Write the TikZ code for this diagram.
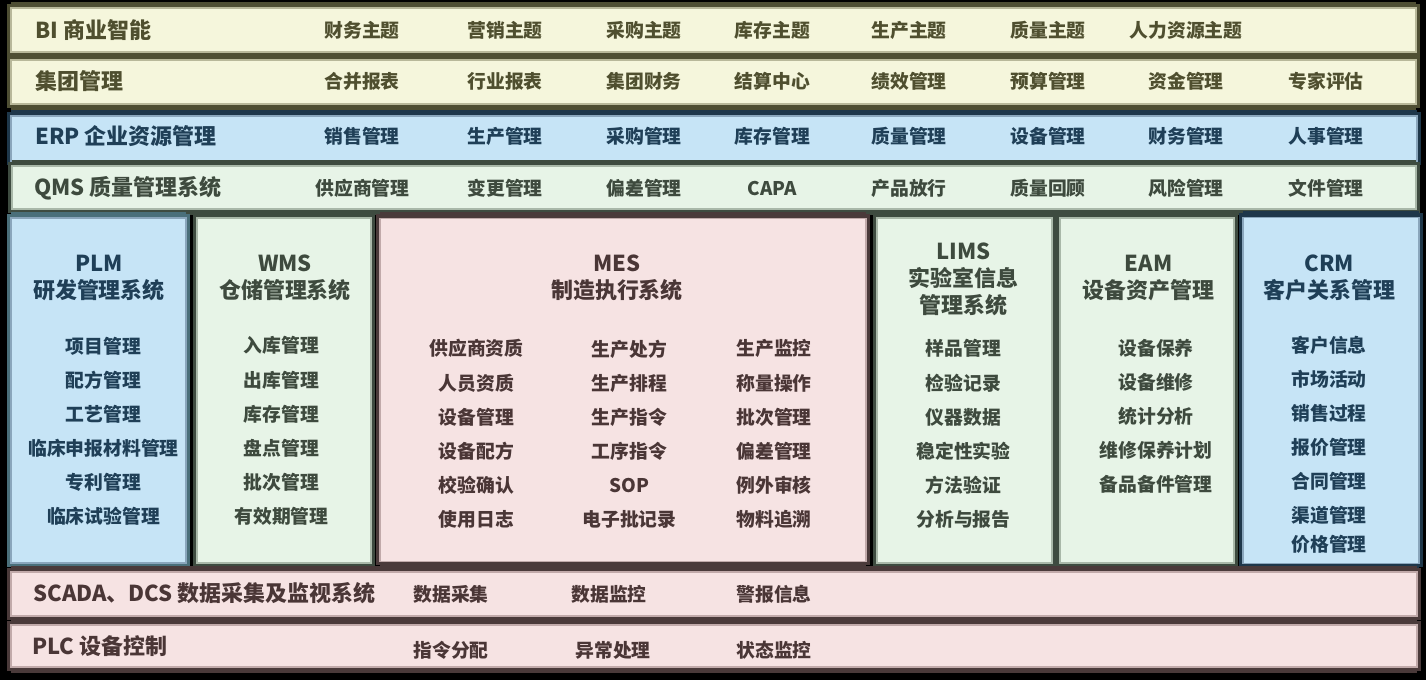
\documentclass[tikz,border=0pt]{standalone}
\usepackage{fontspec}
\setmainfont{Noto Sans CJK SC}
\usetikzlibrary{shadows}
\usepackage{xcolor}
\definecolor{creamlt}{HTML}{F5F6DC}
\definecolor{creamln}{HTML}{B8B89A}
\definecolor{creamdk}{HTML}{4E4E33}
\definecolor{creamtx}{HTML}{4F4F2F}
\definecolor{bluelt}{HTML}{C6E4F6}
\definecolor{blueln}{HTML}{8AA6BC}
\definecolor{bluedk}{HTML}{1E374A}
\definecolor{bluetx}{HTML}{1F3F57}
\definecolor{tealdk}{HTML}{4A6F7A}
\definecolor{greenlt}{HTML}{E7F4E7}
\definecolor{greenln}{HTML}{A9B8A9}
\definecolor{greendk}{HTML}{3E4B40}
\definecolor{greentx}{HTML}{3E4A3E}
\definecolor{pinklt}{HTML}{F6E3E3}
\definecolor{pinkln}{HTML}{C1AAAA}
\definecolor{pinkdk}{HTML}{4A3A3A}
\definecolor{pinktx}{HTML}{4A3636}
\tikzset{
  box/.style={rectangle, inner sep=0pt, line width=0.9pt,
              general shadow={fill=#1, shadow yshift=0.12cm},
              general shadow={fill=#1, shadow yshift=-0.12cm},
              preaction={draw=#1, line width=0.16cm}},
  creambox/.style={box=creamdk, fill=creamlt, draw=creamln},
  bluebox/.style={box=bluedk, fill=bluelt, draw=blueln},
  tealbox/.style={box=tealdk, fill=bluelt, draw=blueln},
  greenbox/.style={box=greendk, fill=greenlt, draw=greenln},
  pinkbox/.style={box=pinkdk, fill=pinklt, draw=pinkln},
  head/.style={font=\fontsize{12.5}{15}\selectfont\bfseries, anchor=west, inner sep=0pt},
  title/.style={font=\fontsize{12.5}{15.5}\selectfont\bfseries, align=center, inner sep=0pt},
  item/.style={font=\fontsize{10.7}{19.4}\selectfont\bfseries, align=center, inner sep=0pt}
}

\begin{document}
\begin{tikzpicture}
  \fill[black] (0,0) rectangle (28.52,13.6);
  \useasboundingbox (0,0) rectangle (28.52,13.6);

  % layers across the full width
  \node[creambox, minimum width=28.10cm, minimum height=0.88cm] (bi) at (14.27,13.00) {};
  \node[creambox, minimum width=28.10cm, minimum height=0.88cm] (grp) at (14.27,11.96) {};
  \node[bluebox, minimum width=28.12cm, minimum height=0.90cm] (erp) at (14.28,10.83) {};
  \node[greenbox, minimum width=28.08cm, minimum height=0.86cm] (qms) at (14.28,9.85) {};

  % vertical systems
  \node[tealbox, minimum width=3.50cm, minimum height=6.90cm] (plm) at (1.97,5.79) {};
  \node[greenbox, minimum width=3.48cm, minimum height=6.90cm] (wms) at (5.68,5.79) {};
  \node[pinkbox, minimum width=9.72cm, minimum height=6.86cm] (mes) at (12.46,5.80) {};
  \node[greenbox, minimum width=3.50cm, minimum height=6.90cm] (lims) at (19.29,5.79) {};
  \node[greenbox, minimum width=3.48cm, minimum height=6.90cm] (eam) at (22.94,5.79) {};
  \node[bluebox, minimum width=3.52cm, minimum height=6.92cm] (crm) at (26.62,5.79) {};

  % field level
  \node[pinkbox, minimum width=28.12cm, minimum height=0.88cm] (scada) at (14.28,1.72) {};
  \node[pinkbox, minimum width=28.12cm, minimum height=0.84cm] (plc) at (14.28,0.68) {};

  % BI
  \node[head, text=creamtx] (bihd) at (0.70,12.99) {BI 商业智能};
  \node[item, text=creamtx] (bi1) at (7.24,12.99) {财务主题};
  \node[item, text=creamtx] (bi2) at (10.10,12.99) {营销主题};
  \node[item, text=creamtx] (bi3) at (12.88,12.99) {采购主题};
  \node[item, text=creamtx] (bi4) at (15.45,12.99) {库存主题};
  \node[item, text=creamtx] (bi5) at (18.18,12.99) {生产主题};
  \node[item, text=creamtx] (bi6) at (20.96,12.99) {质量主题};
  \node[item, text=creamtx] (bi7) at (23.72,12.99) {人力资源主题};

  % group
  \node[head, text=creamtx] (grphd) at (0.70,11.98) {集团管理};
  \node[item, text=creamtx] (grp1) at (7.24,11.98) {合并报表};
  \node[item, text=creamtx] (grp2) at (10.10,11.98) {行业报表};
  \node[item, text=creamtx] (grp3) at (12.88,11.98) {集团财务};
  \node[item, text=creamtx] (grp4) at (15.45,11.98) {结算中心};
  \node[item, text=creamtx] (grp5) at (18.18,11.98) {绩效管理};
  \node[item, text=creamtx] (grp6) at (20.96,11.98) {预算管理};
  \node[item, text=creamtx] (grp7) at (23.72,11.98) {资金管理};
  \node[item, text=creamtx] (grp8) at (26.52,11.98) {专家评估};

  % ERP
  \node[head, text=bluetx] (erphd) at (0.70,10.87) {ERP 企业资源管理};
  \node[item, text=bluetx] (erp1) at (7.24,10.87) {销售管理};
  \node[item, text=bluetx] (erp2) at (10.10,10.87) {生产管理};
  \node[item, text=bluetx] (erp3) at (12.88,10.87) {采购管理};
  \node[item, text=bluetx] (erp4) at (15.45,10.87) {库存管理};
  \node[item, text=bluetx] (erp5) at (18.18,10.87) {质量管理};
  \node[item, text=bluetx] (erp6) at (20.96,10.87) {设备管理};
  \node[item, text=bluetx] (erp7) at (23.72,10.87) {财务管理};
  \node[item, text=bluetx] (erp8) at (26.52,10.87) {人事管理};

  % QMS
  \node[head, text=greentx] (qmshd) at (0.68,9.83) {QMS 质量管理系统};
  \node[item, text=greentx] (qms1) at (7.25,9.83) {供应商管理};
  \node[item, text=greentx] (qms2) at (10.10,9.83) {变更管理};
  \node[item, text=greentx] (qms3) at (12.88,9.83) {偏差管理};
  \node[item, text=greentx] (qms4) at (15.45,9.83) {CAPA};
  \node[item, text=greentx] (qms5) at (18.18,9.83) {产品放行};
  \node[item, text=greentx] (qms6) at (20.96,9.83) {质量回顾};
  \node[item, text=greentx] (qms7) at (23.72,9.83) {风险管理};
  \node[item, text=greentx] (qms8) at (26.52,9.83) {文件管理};

  % PLM
  \node[title, text=bluetx] (plmhd) at (1.98,8.04) {PLM\\研发管理系统};
  \node[item, text=bluetx] (plmit) at (2.07,4.97)
     {项目管理\\配方管理\\工艺管理\\临床申报材料管理\\专利管理\\临床试验管理};

  % WMS
  \node[title, text=greentx] (wmshd) at (5.70,8.04) {WMS\\仓储管理系统};
  \node[item, text=greentx] (wmsit) at (5.63,4.98)
     {入库管理\\出库管理\\库存管理\\盘点管理\\批次管理\\有效期管理};

  % MES
  \node[title, text=pinktx] (meshd) at (12.34,8.04) {MES\\制造执行系统};
  \node[item, text=pinktx] (mesa) at (9.53,4.92)
     {供应商资质\\人员资质\\设备管理\\设备配方\\校验确认\\使用日志};
  \node[item, text=pinktx] (mesb) at (12.59,4.92)
     {生产处方\\生产排程\\生产指令\\工序指令\\SOP\\电子批记录};
  \node[item, text=pinktx] (mesc) at (15.48,4.92)
     {生产监控\\称量操作\\批次管理\\偏差管理\\例外审核\\物料追溯};

  % LIMS
  \node[title, text=greentx] (limshd) at (19.27,8.01) {LIMS\\实验室信息\\管理系统};
  \node[item, text=greentx] (limsit) at (19.27,4.92)
     {样品管理\\检验记录\\仪器数据\\稳定性实验\\方法验证\\分析与报告};

  % EAM
  \node[title, text=greentx] (eamhd) at (22.97,8.04) {EAM\\设备资产管理};
  \node[item, text=greentx] (eamit) at (23.12,5.27)
     {设备保养\\设备维修\\统计分析\\维修保养计划\\备品备件管理};

  % CRM
  \node[title, text=bluetx] (crmhd) at (26.59,8.04) {CRM\\客户关系管理};
  \node[item, text=bluetx] (crmit) at (26.58,4.70)
     {客户信息\\市场活动\\销售过程\\报价管理\\合同管理\\渠道管理\\[-0.1cm]价格管理};

  % SCADA / PLC
  \node[head, text=pinktx] (scadahd) at (0.66,1.74) {SCADA、DCS 数据采集及监视系统};
  \node[item, text=pinktx] (scada1) at (9.02,1.72) {数据采集};
  \node[item, text=pinktx] (scada2) at (12.18,1.72) {数据监控};
  \node[item, text=pinktx] (scada3) at (15.48,1.72) {警报信息};
  \node[head, text=pinktx] (plchd) at (0.64,0.68) {PLC 设备控制};
  \node[item, text=pinktx] (plc1) at (9.02,0.60) {指令分配};
  \node[item, text=pinktx] (plc2) at (12.26,0.60) {异常处理};
  \node[item, text=pinktx] (plc3) at (15.48,0.60) {状态监控};
\end{tikzpicture}
\end{document}
